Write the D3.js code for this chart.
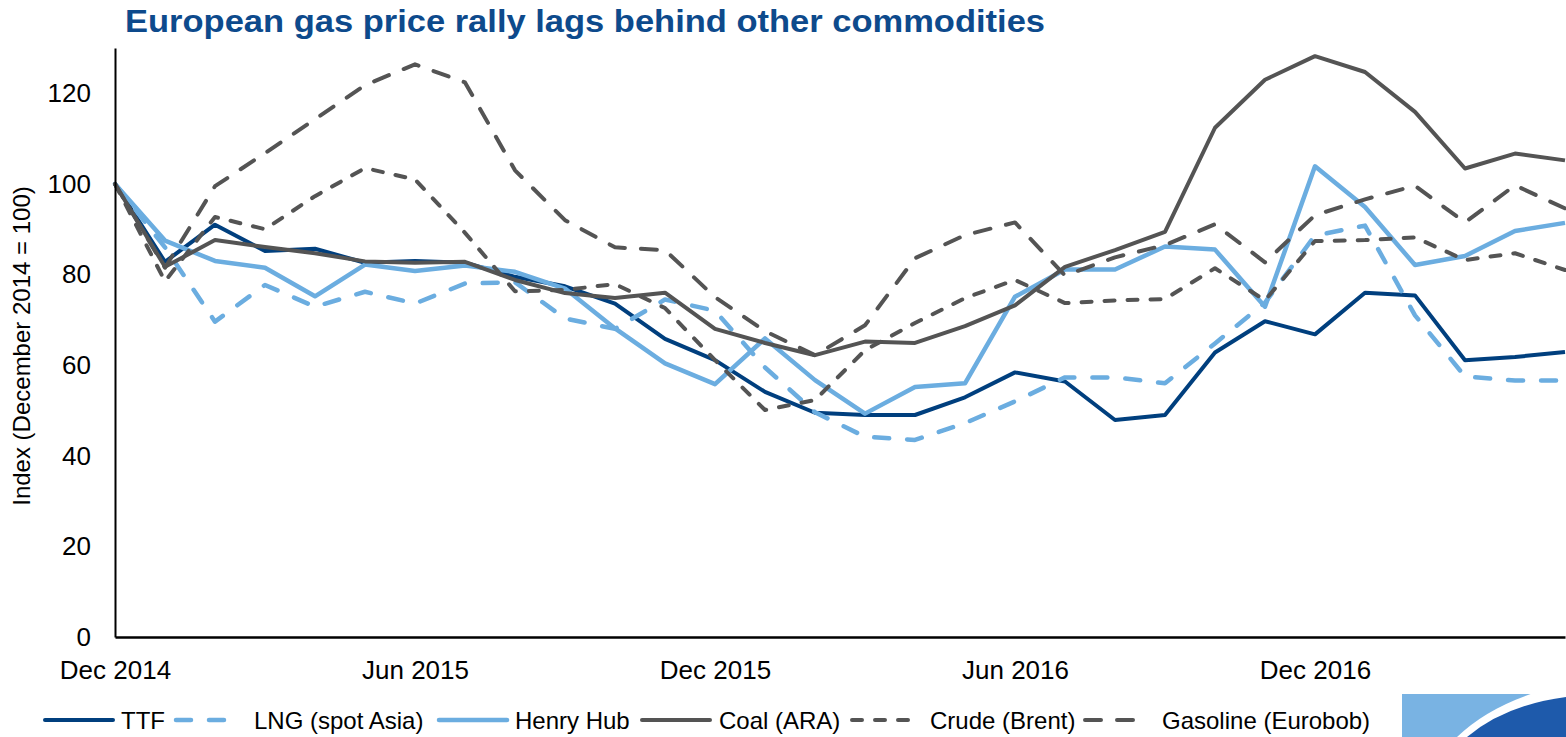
<!DOCTYPE html>
<html>
<head>
<meta charset="utf-8">
<script src="https://cdn.jsdelivr.net/npm/d3@7.9.0/dist/d3.min.js"></script>
<style>
  body { margin: 0; background: #fff; }
  svg { display: block; font-family: "Liberation Sans", Arial, sans-serif; }
</style>
</head>
<body>
<svg id="chart" width="1566" height="737"></svg>
<script>
const months = ['Dec 2014', 'Jan 2015', 'Feb 2015', 'Mar 2015', 'Apr 2015', 'May 2015', 'Jun 2015',
  'Jul 2015', 'Aug 2015', 'Sep 2015', 'Oct 2015', 'Nov 2015', 'Dec 2015', 'Jan 2016', 'Feb 2016',
  'Mar 2016', 'Apr 2016', 'May 2016', 'Jun 2016', 'Jul 2016', 'Aug 2016', 'Sep 2016', 'Oct 2016',
  'Nov 2016', 'Dec 2016', 'Jan 2017', 'Feb 2017', 'Mar 2017', 'Apr 2017', 'May 2017'];
const tickLabels = ['Dec 2014', 'Jun 2015', 'Dec 2015', 'Jun 2016', 'Dec 2016'];
const yTicks = [0, 20, 40, 60, 80, 100, 120];

const ttf = [100, 82.8, 91.0, 85.2, 85.7, 82.6, 83.0, 82.6, 79.5, 77.4, 73.6, 65.8, 61.1, 54.1, 49.5,
  49.0, 49.0, 52.9, 58.4, 56.4, 47.9, 49.0, 62.8, 69.7, 66.8, 76.0, 75.4, 61.1, 61.8, 62.9];
const lng = [100, 86.0, 69.6, 77.7, 72.9, 76.2, 73.6, 78.0, 78.3, 70.3, 68.0, 74.5, 72.0, 59.5, 49.6,
  44.2, 43.5, 47.2, 52.0, 57.3, 57.3, 56.0, 64.8, 73.8, 88.6, 90.8, 71.0, 57.5, 56.6, 56.6];
const henryHub = [100, 87.5, 83.0, 81.5, 75.2, 82.2, 80.8, 82.0, 80.6, 76.9, 68.1, 60.4, 55.8, 65.9, 56.7,
  49.3, 55.2, 56.0, 75.1, 81.1, 81.1, 86.2, 85.5, 72.9, 103.9, 94.9, 82.1, 84.1, 89.6, 91.4];
const coal = [100, 81.7, 87.6, 86.1, 84.7, 82.9, 82.6, 82.8, 78.8, 75.9, 74.8, 76.0, 68.0, 64.9, 62.2,
  65.2, 64.9, 68.6, 73.2, 81.7, 85.4, 89.4, 112.4, 123.0, 128.2, 124.7, 115.9, 103.4, 106.7, 105.2];
const crude = [100, 78.5, 92.7, 90.0, 97.3, 103.5, 101.0, 89.2, 76.3, 76.6, 77.9, 72.6, 61.1, 50.1, 52.3,
  63.3, 69.3, 74.8, 78.8, 73.7, 74.3, 74.6, 81.4, 74.3, 87.4, 87.6, 88.2, 83.2, 84.7, 81.0];
const gasoline = [100, 81.5, 99.5, 106.8, 114.3, 121.8, 126.4, 122.4, 103.0, 92.0, 86.0, 85.4, 75.0, 67.5, 62.2,
  68.8, 83.6, 88.7, 91.5, 79.8, 83.8, 86.5, 91.1, 82.7, 93.1, 96.6, 99.6, 91.5, 99.7, 94.6];

const series = [
  { name: 'TTF', values: ttf, color: '#003f7e', width: 4, dash: null },
  { name: 'LNG (spot Asia)', values: lng, color: '#6badE0', width: 4.5, dash: '15,18' },
  { name: 'Henry Hub', values: henryHub, color: '#6badE0', width: 4.5, dash: null },
  { name: 'Coal (ARA)', values: coal, color: '#545454', width: 4, dash: null },
  { name: 'Crude (Brent)', values: crude, color: '#545454', width: 4, dash: '10,13' },
  { name: 'Gasoline (Eurobob)', values: gasoline, color: '#545454', width: 4, dash: '16,16' }
];

const svg = d3.select('#chart');
const plotLeft = 115, plotRight = 1565, plotTop = 48, plotBottom = 637;

let x = d3.scalePoint().domain(months).range([plotLeft, plotRight]);
let y = d3.scaleLinear().domain([0, 130]).range([plotBottom, plotTop]);

// title
svg.append('text')
  .attr('x', 125).attr('y', 32)
  .attr('font-size', 32).attr('font-weight', 'bold')
  .attr('fill', '#0d4a8c')
  .attr('textLength', 920).attr('lengthAdjust', 'spacingAndGlyphs')
  .text('European gas price rally lags behind other commodities');

// lines
let line = d3.line().x((d, i) => x(months[i])).y(d => y(d));
series.forEach(s => {
  svg.append('path')
    .attr('d', line(s.values))
    .attr('fill', 'none')
    .attr('stroke', s.color)
    .attr('stroke-width', s.width)
    .attr('stroke-linejoin', 'round')
    .attr('stroke-linecap', s.dash ? 'round' : 'butt')
    .attr('stroke-dasharray', s.dash);
});

// axes
let yAxis = svg.append('g')
  .attr('transform', `translate(${plotLeft},0)`)
  .call(d3.axisLeft(y).tickValues(yTicks).tickSize(0).tickPadding(24));
yAxis.select('.domain').attr('stroke', '#000').attr('stroke-width', 2);
yAxis.selectAll('text').attr('font-size', 26).attr('fill', '#000')
  .attr('font-family', '"Liberation Sans", Arial, sans-serif');

let xAxis = svg.append('g')
  .attr('transform', `translate(0,${plotBottom})`)
  .call(d3.axisBottom(x).tickValues(tickLabels).tickSize(0).tickPadding(24));
xAxis.select('.domain').attr('stroke', '#000').attr('stroke-width', 2.5);
xAxis.selectAll('text').attr('font-size', 26).attr('fill', '#000')
  .attr('font-family', '"Liberation Sans", Arial, sans-serif');

svg.append('text')
  .attr('transform', 'translate(30,346) rotate(-90)')
  .attr('text-anchor', 'middle')
  .attr('font-size', 24)
  .text('Index (December 2014 = 100)');

// legend
const legendX = [45, 176, 439, 642, 852, 1085];
const legendTextX = [121, 254, 515, 719, 930, 1162];
series.forEach((s, i) => {
  svg.append('line')
    .attr('x1', legendX[i]).attr('x2', legendX[i] + (s.dash ? 58 : 68))
    .attr('y1', 720).attr('y2', 720)
    .attr('stroke', s.color)
    .attr('stroke-width', s.width)
    .attr('stroke-linecap', 'round')
    .attr('stroke-dasharray', s.dash);
  svg.append('text')
    .attr('x', legendTextX[i]).attr('y', 729)
    .attr('font-size', 24)
    .text(s.name);
});

// logo corner
let logo = svg.append('g');
logo.append('clipPath').attr('id', 'logoClip')
  .append('rect').attr('x', 1402).attr('y', 694).attr('width', 164).attr('height', 43);
let lg = logo.append('g').attr('clip-path', 'url(#logoClip)');
lg.append('rect').attr('x', 1402).attr('y', 694).attr('width', 164).attr('height', 43).attr('fill', '#79b3e3');
lg.append('path').attr('d', 'M1457,737 Q1495,700 1566,684 L1566,737 Z').attr('fill', '#fff');
lg.append('path').attr('d', 'M1467,737 Q1505,705 1566,697 L1566,737 Z').attr('fill', '#1e5aab');
</script>
</body>
</html>
